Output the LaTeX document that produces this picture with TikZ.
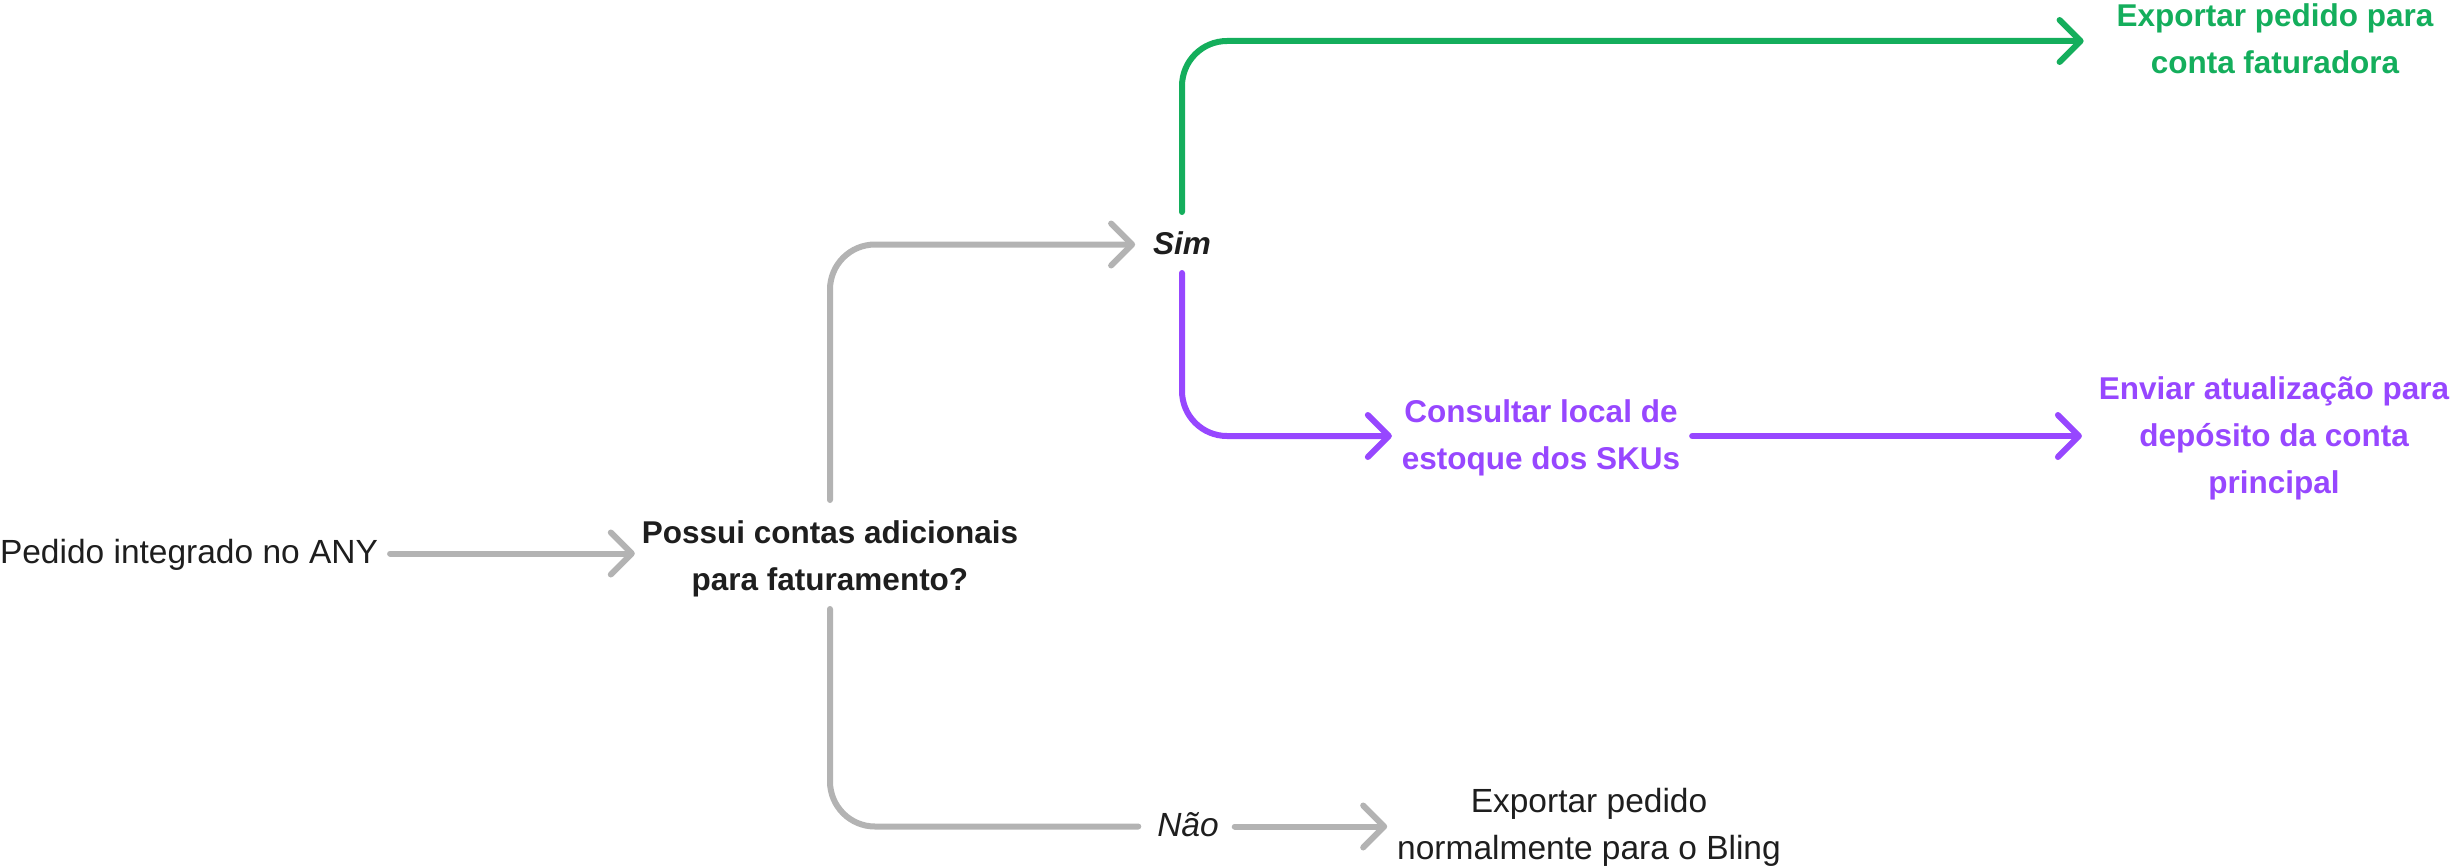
\documentclass[tikz,border=0pt]{standalone}
\usepackage{fontspec}
\setmainfont{Liberation Sans}
\usetikzlibrary{arrows.meta}
\definecolor{lgray}{HTML}{B3B3B3}
\definecolor{fgreen}{HTML}{14AE5C}
\definecolor{fpurple}{HTML}{9747FF}
\definecolor{ink}{HTML}{1E1E1E}
\newcommand\mystrut{\rule[-14pt]{0pt}{47pt}}
\begin{document}
\begin{tikzpicture}[x=1pt,y=-1pt,
  txt/.style={inner sep=0pt, outer sep=0pt, align=center, text=ink, font=\fontsize{33.5}{47}\selectfont},
  btxt/.style={txt, font=\fontsize{31.5}{47}\selectfont\bfseries},
  conn/.style={line width=6pt, line cap=round, line join=round, rounded corners=45pt},
  tipped/.style={-{Straight Barb[length=21pt,width=42pt,round]}},
  grayconn/.style={conn, draw=lgray},
  greenconn/.style={conn, draw=fgreen},
  purpleconn/.style={conn, draw=fpurple}
]
\useasboundingbox (0,0) rectangle (2451,867);

% nodes
\node[txt, anchor=north west] (pedido) at (0,530) {\mystrut Pedido integrado no ANY};
\node[btxt, anchor=north] (possui) at (830,510) {\mystrut Possui contas adicionais\\\mystrut para faturamento?};
\node[btxt, anchor=north, font=\fontsize{31.5}{47}\selectfont\bfseries\itshape] (sim) at (1182,221) {\mystrut Sim};
\node[btxt, anchor=north, text=fgreen] (expf) at (2275,-6) {\mystrut Exportar pedido para\\\mystrut conta faturadora};
\node[btxt, anchor=north, text=fpurple] (consultar) at (1541,389) {\mystrut Consultar local de\\\mystrut estoque dos SKUs};
\node[btxt, anchor=north, text=fpurple] (enviar) at (2274,366) {\mystrut Enviar atualização para\\\mystrut depósito da conta\\\mystrut principal};
\node[txt, anchor=north, font=\fontsize{33.5}{47}\selectfont\itshape] (nao) at (1188,803) {\mystrut Não};
\node[txt, anchor=north] (expn) at (1589,779) {\mystrut Exportar pedido\\\mystrut normalmente para o Bling};

% connectors
\draw[grayconn, tipped] ([xshift=12pt]pedido.east) -- ([xshift=-7pt]pedido.east -| possui.west);
\draw[grayconn, tipped] ([yshift=10pt]possui.north) |- ([xshift=-18pt]sim.west);
\draw[grayconn] ([yshift=-5pt]possui.south) |- ([xshift=-19pt]nao.west);
\draw[grayconn, tipped] ([xshift=16pt]nao.east) -- ([xshift=-10pt]nao.east -| expn.west);
\draw[greenconn, tipped] ([yshift=9pt]sim.north) |- ([xshift=-33pt]expf.west);
\draw[purpleconn, tipped] ([yshift=-5pt]sim.south) |- ([xshift=-10pt]consultar.west);
\draw[purpleconn, tipped] ([xshift=12pt]consultar.east) -- ([xshift=-17pt]consultar.east -| enviar.west);
\end{tikzpicture}
\end{document}
